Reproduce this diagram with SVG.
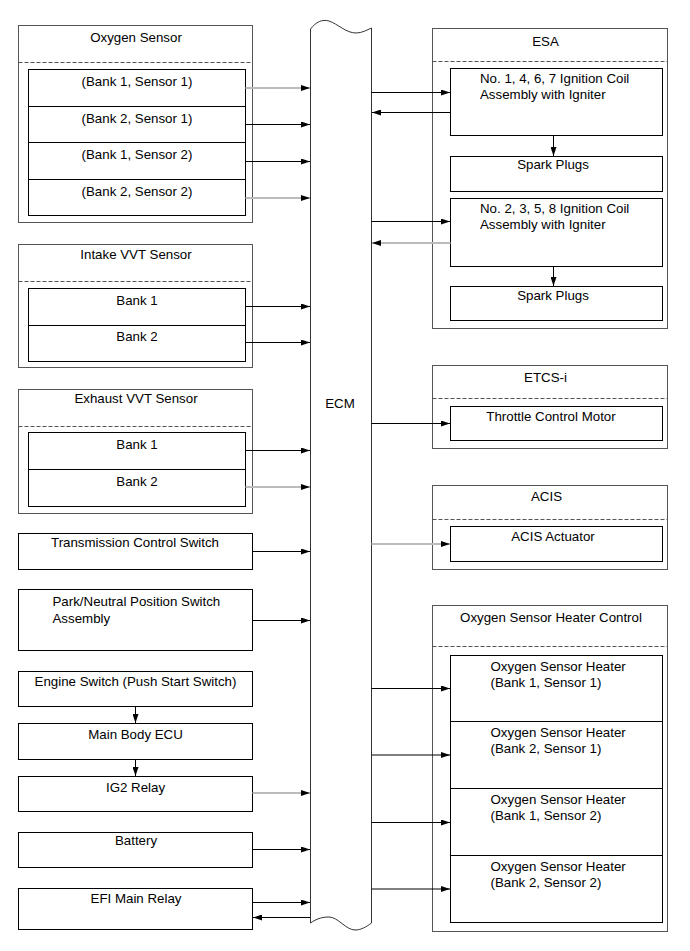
<svg xmlns="http://www.w3.org/2000/svg" width="690" height="951" viewBox="0 0 690 951">
<style>
text{font-family:"Liberation Sans",Arial,sans-serif;font-size:13.3px;fill:#000}
.c{text-anchor:middle}
.o{fill:#fff;stroke:#555;stroke-width:1}
.i{fill:#fff;stroke:#000;stroke-width:1}
.d{stroke:#555;stroke-width:1;stroke-dasharray:4 2;fill:none}
.a{stroke:#000;stroke-width:1;fill:none;marker-end:url(#ah)}
.g{stroke:#bbb;stroke-width:2;fill:none;marker-end:url(#ah)}
</style>
<defs>
<marker id="ah" markerUnits="userSpaceOnUse" markerWidth="9" markerHeight="6" refX="9" refY="3" orient="auto">
<path d="M0,0 L9,3 L0,6 Z" fill="#000"/>
</marker>
</defs>
<rect width="690" height="951" fill="#fff"/>

<g id="ecm">
<path d="M310.5,29 C316,22 322,19 329,21 C338,24 346,33 356,33 C362,33 367,30 371.5,28 L371.5,923 C366,927 361,930 355,930 C346,930 338,917 329,917 C320,917 315,920 310.5,923 Z" fill="#fff" stroke="#333" stroke-width="1"/>
<text x="340" y="408" class="c">ECM</text>
</g>

<g id="oxygen-sensor">
<rect class="o" x="18.5" y="25.5" width="234" height="197"/>
<line class="d" x1="18.5" y1="62.5" x2="252.5" y2="62.5"/>
<text x="136" y="42" class="c">Oxygen Sensor</text>
<rect class="i" x="28.5" y="69.5" width="217" height="146"/>
<line stroke="#000" x1="28.5" y1="106.5" x2="245.5" y2="106.5"/>
<line stroke="#000" x1="28.5" y1="142.5" x2="245.5" y2="142.5"/>
<line stroke="#000" x1="28.5" y1="179.5" x2="245.5" y2="179.5"/>
<text x="137" y="86" class="c">(Bank 1, Sensor 1)</text>
<text x="137" y="123" class="c">(Bank 2, Sensor 1)</text>
<text x="137" y="159" class="c">(Bank 1, Sensor 2)</text>
<text x="137" y="196" class="c">(Bank 2, Sensor 2)</text>
</g>

<g id="intake-vvt">
<rect class="o" x="18.5" y="244.5" width="234" height="123"/>
<line class="d" x1="18.5" y1="281.5" x2="252.5" y2="281.5"/>
<text x="136" y="259" class="c">Intake VVT Sensor</text>
<rect class="i" x="28.5" y="288.5" width="217" height="73"/>
<line stroke="#000" x1="28.5" y1="325.5" x2="245.5" y2="325.5"/>
<text x="137" y="305" class="c">Bank 1</text>
<text x="137" y="341" class="c">Bank 2</text>
</g>

<g id="exhaust-vvt">
<rect class="o" x="18.5" y="389.5" width="234" height="124"/>
<line class="d" x1="18.5" y1="426.5" x2="252.5" y2="426.5"/>
<text x="136" y="403" class="c">Exhaust VVT Sensor</text>
<rect class="i" x="28.5" y="432.5" width="217" height="74"/>
<line stroke="#000" x1="28.5" y1="469.5" x2="245.5" y2="469.5"/>
<text x="137" y="449" class="c">Bank 1</text>
<text x="137" y="486" class="c">Bank 2</text>
</g>

<g id="transmission-control-switch">
<rect class="i" x="18.5" y="533.5" width="234" height="36"/>
<text x="135" y="547" class="c">Transmission Control Switch</text>
</g>

<g id="park-neutral">
<rect class="i" x="18.5" y="589.5" width="234" height="61"/>
<text x="52.5" y="606">Park/Neutral Position Switch</text>
<text x="52.5" y="622.5">Assembly</text>
</g>

<g id="engine-switch">
<rect class="i" x="18.5" y="671.5" width="234" height="35"/>
<text x="135.5" y="686" class="c">Engine Switch (Push Start Switch)</text>
</g>

<g id="main-body-ecu">
<rect class="i" x="18.5" y="723.5" width="234" height="36"/>
<text x="135.5" y="738.5" class="c">Main Body ECU</text>
</g>

<g id="ig2-relay">
<rect class="i" x="18.5" y="776.5" width="234" height="35"/>
<text x="135.5" y="792" class="c">IG2 Relay</text>
</g>

<g id="battery">
<rect class="i" x="18.5" y="832.5" width="234" height="35"/>
<text x="136" y="845" class="c">Battery</text>
</g>

<g id="efi-main-relay">
<rect class="i" x="18.5" y="888.5" width="234" height="41"/>
<text x="136" y="903" class="c">EFI Main Relay</text>
</g>

<g id="esa">
<rect class="o" x="432.5" y="28.5" width="235" height="300"/>
<line class="d" x1="432.5" y1="61.5" x2="667.5" y2="61.5"/>
<text x="545.5" y="46" class="c">ESA</text>
</g>

<g id="coil-1467">
<rect class="i" x="450.5" y="68.5" width="212" height="67"/>
<text x="480" y="82.5">No. 1, 4, 6, 7 Ignition Coil</text>
<text x="480" y="99">Assembly with Igniter</text>
</g>

<g id="spark-plugs-1">
<rect class="i" x="450.5" y="156.5" width="212" height="35"/>
<text x="553" y="169" class="c">Spark Plugs</text>
</g>

<g id="coil-2358">
<rect class="i" x="450.5" y="198.5" width="212" height="68"/>
<text x="480" y="212.5">No. 2, 3, 5, 8 Ignition Coil</text>
<text x="480" y="229">Assembly with Igniter</text>
</g>

<g id="spark-plugs-2">
<rect class="i" x="450.5" y="286.5" width="212" height="34"/>
<text x="553" y="300" class="c">Spark Plugs</text>
</g>

<g id="etcs-i">
<rect class="o" x="432.5" y="365.5" width="235" height="83"/>
<line class="d" x1="432.5" y1="398.5" x2="667.5" y2="398.5"/>
<text x="545.5" y="382" class="c">ETCS-i</text>
<rect class="i" x="450.5" y="406.5" width="212" height="34"/>
<text x="551" y="421" class="c">Throttle Control Motor</text>
</g>

<g id="acis">
<rect class="o" x="432.5" y="485.5" width="235" height="84"/>
<line class="d" x1="432.5" y1="519.5" x2="667.5" y2="519.5"/>
<text x="546.5" y="500.5" class="c">ACIS</text>
<rect class="i" x="450.5" y="526.5" width="212" height="35"/>
<text x="553" y="541" class="c">ACIS Actuator</text>
</g>

<g id="o2-heater-control">
<rect class="o" x="432.5" y="605.5" width="235" height="326"/>
<line class="d" x1="432.5" y1="646.5" x2="667.5" y2="646.5"/>
<text x="551" y="622" class="c">Oxygen Sensor Heater Control</text>
<rect class="i" x="450.5" y="655.5" width="212" height="267"/>
<line stroke="#000" x1="450.5" y1="721.5" x2="662.5" y2="721.5"/>
<line stroke="#000" x1="450.5" y1="788.5" x2="662.5" y2="788.5"/>
<line stroke="#000" x1="450.5" y1="855.5" x2="662.5" y2="855.5"/>
<text x="490.5" y="670.5">Oxygen Sensor Heater</text>
<text x="490.5" y="686.5">(Bank 1, Sensor 1)</text>
<text x="490.5" y="737">Oxygen Sensor Heater</text>
<text x="490.5" y="753">(Bank 2, Sensor 1)</text>
<text x="490.5" y="804">Oxygen Sensor Heater</text>
<text x="490.5" y="820">(Bank 1, Sensor 2)</text>
<text x="490.5" y="871">Oxygen Sensor Heater</text>
<text x="490.5" y="887">(Bank 2, Sensor 2)</text>
</g>

<g id="connectors">
<line class="g" x1="245.5" y1="88" x2="310" y2="88"/>
<line class="a" x1="245.5" y1="124.5" x2="310" y2="124.5"/>
<line class="a" x1="245.5" y1="161.5" x2="310" y2="161.5"/>
<line class="g" x1="245.5" y1="198" x2="310" y2="198"/>
<line class="a" x1="245.5" y1="306.5" x2="310" y2="306.5"/>
<line class="a" x1="245.5" y1="342.5" x2="310" y2="342.5"/>
<line class="a" x1="245.5" y1="450.5" x2="310" y2="450.5"/>
<line class="g" x1="245.5" y1="487" x2="310" y2="487"/>
<line class="a" x1="252.5" y1="551.5" x2="310" y2="551.5"/>
<line class="a" x1="252.5" y1="620.5" x2="310" y2="620.5"/>
<line class="a" x1="135.5" y1="706.5" x2="135.5" y2="723"/>
<line class="a" x1="135.5" y1="759.5" x2="135.5" y2="776"/>
<line class="g" x1="252.5" y1="793" x2="310" y2="793"/>
<line class="a" x1="252.5" y1="849.5" x2="310" y2="849.5"/>
<line class="a" x1="252.5" y1="902.5" x2="310" y2="902.5"/>
<line class="a" x1="310" y1="917.5" x2="253" y2="917.5"/>
<line class="a" x1="371.5" y1="92.5" x2="450" y2="92.5"/>
<line class="a" x1="450.5" y1="112.5" x2="372" y2="112.5"/>
<line class="a" x1="553.5" y1="135.5" x2="553.5" y2="156"/>
<line class="a" x1="371.5" y1="221.5" x2="450" y2="221.5"/>
<line class="g" x1="450.5" y1="243" x2="372" y2="243"/>
<line class="a" x1="553.5" y1="266.5" x2="553.5" y2="286"/>
<line class="a" x1="371.5" y1="423.5" x2="450" y2="423.5"/>
<line class="g" x1="371.5" y1="544" x2="450" y2="544"/>
<line class="a" x1="371.5" y1="688.5" x2="450" y2="688.5"/>
<line class="a" x1="371.5" y1="755" x2="450" y2="755"/>
<line class="a" x1="371.5" y1="822.5" x2="450" y2="822.5"/>
<line class="a" x1="371.5" y1="889" x2="450" y2="889"/>
</g>
</svg>
